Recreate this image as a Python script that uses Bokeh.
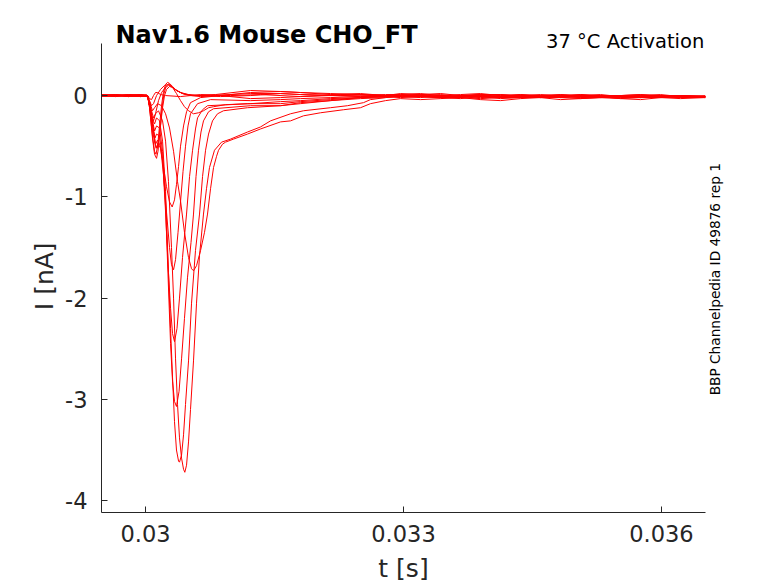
import math
from bokeh.plotting import figure
from bokeh.models import Label, FixedTicker, Range1d, LinearAxis
from bokeh.embed import file_html
from bokeh.resources import INLINE

# ---------------- data (t in s, I in nA) ----------------
PRE_T = [0.029488, 0.029651, 0.029802, 0.029942, 0.030012]
TAIL_T = [0.032965, 0.033198, 0.033430, 0.033663, 0.033895, 0.034128, 0.034360, 0.034593,
          0.034826, 0.035058, 0.035291, 0.035523, 0.035756, 0.035988, 0.036221, 0.036512]

# lowest step: capacitive blip only
PRE_L0 = [0.0, 0.01, 0.0, -0.01, 0.0]
T_L0 = [0.030023, 0.030047, 0.030070, 0.030093, 0.030116, 0.030140, 0.030174, 0.030233,
        0.030407, 0.030640, 0.030988, 0.031337, 0.031802, 0.032267, 0.032791]
I_L0 = [0.0, -0.03, -0.04, 0.0, 0.03, 0.03, 0.01, 0.0, -0.01, 0.01, 0.0, 0.01, -0.01, 0.01, 0.0]
TAIL_L0 = [0.0, 0.01, -0.01, 0.0, 0.01, -0.01, 0.0, -0.01, 0.01, 0.0, -0.01, 0.0, 0.01, -0.01, 0.0, -0.01]

# threshold step: small slow inward current
PRE_L1 = [0.01, 0.0, -0.01, 0.0, 0.01]
T_L1 = [0.030023, 0.030047, 0.030070, 0.030093, 0.030128, 0.030174, 0.030221, 0.030267,
        0.030314, 0.030360, 0.030407, 0.030453, 0.030500, 0.030558, 0.030616, 0.030674,
        0.030733, 0.030791, 0.030930, 0.031186, 0.031570, 0.031802, 0.032151, 0.032500, 0.032791]
I_L1 = [0.0, -0.05, -0.10, -0.08, 0.0, 0.06, 0.10, 0.11, 0.08, 0.02, -0.05, -0.11, -0.15,
        -0.18, -0.17, -0.15, -0.12, -0.11, -0.09, -0.08, -0.08, -0.06, -0.04, -0.02, -0.01]
TAIL_L1 = [-0.01, 0.0, -0.02, -0.01, 0.0, -0.02, -0.01, -0.02, 0.0, -0.01, -0.02, -0.01, 0.0, -0.01, -0.02, -0.01]

# wide trace, peak -1.73
PRE_M7 = [0.0, -0.01, 0.0, 0.01, 0.0]
T_M7 = [0.030023, 0.030047, 0.030081, 0.030105, 0.030140, 0.030186, 0.030233, 0.030279,
        0.030326, 0.030372, 0.030407, 0.030453, 0.030500, 0.030535, 0.030558, 0.030593,
        0.030640, 0.030686, 0.030721, 0.030756, 0.030791, 0.030826, 0.030849, 0.030895,
        0.030930, 0.031023, 0.031186, 0.031337, 0.031570, 0.031686, 0.031837, 0.032035,
        0.032302, 0.032500, 0.032616, 0.032791]
I_M7 = [0.0, -0.06, -0.15, -0.12, -0.08, -0.10, -0.18, -0.32, -0.55, -0.85, -1.04, -1.35,
        -1.60, -1.71, -1.73, -1.68, -1.53, -1.35, -1.17, -0.92, -0.71, -0.60, -0.54, -0.48,
        -0.46, -0.43, -0.38, -0.33, -0.26, -0.25, -0.20, -0.17, -0.14, -0.12, -0.08, -0.05]
TAIL_M7 = [-0.03, -0.04, -0.03, -0.02, -0.04, -0.05, -0.03, -0.02, -0.04, -0.03, -0.02, -0.03, -0.04, -0.02, -0.03, -0.02]

# largest trace, peak -3.72
PRE_M6 = [-0.01, 0.0, 0.01, 0.0, -0.01]
T_M6 = [0.030023, 0.030047, 0.030093, 0.030116, 0.030151, 0.030198, 0.030233, 0.030267,
        0.030302, 0.030326, 0.030349, 0.030372, 0.030395, 0.030419, 0.030442, 0.030457,
        0.030477, 0.030500, 0.030523, 0.030558, 0.030593, 0.030628, 0.030674, 0.030709,
        0.030744, 0.030802, 0.030884, 0.030988, 0.031186, 0.031337, 0.031453, 0.031686,
        0.031837, 0.032151, 0.032349, 0.032535, 0.032616, 0.032791]
I_M6 = [0.0, -0.08, -0.22, -0.18, -0.15, -0.25, -0.45, -0.85, -1.50, -2.00, -2.60, -3.05,
        -3.38, -3.58, -3.69, -3.72, -3.65, -3.42, -3.10, -2.62, -2.05, -1.58, -1.17, -0.92,
        -0.71, -0.54, -0.46, -0.43, -0.36, -0.31, -0.25, -0.18, -0.15, -0.12, -0.10, -0.07,
        -0.04, -0.02]
TAIL_M6 = [-0.01, -0.02, 0.0, -0.01, -0.02, -0.01, 0.0, -0.02, -0.01, -0.01, 0.0, -0.02, -0.01, 0.0, -0.01, -0.01]

# peak -3.62
PRE_M5 = [0.0, 0.0, -0.01, 0.0, 0.0]
T_M5 = [0.030023, 0.030047, 0.030093, 0.030105, 0.030128, 0.030163, 0.030198, 0.030233,
        0.030267, 0.030291, 0.030314, 0.030337, 0.030360, 0.030384, 0.030395, 0.030419,
        0.030442, 0.030465, 0.030500, 0.030535, 0.030581, 0.030628, 0.030663, 0.030698,
        0.030733, 0.030779, 0.030837, 0.030907, 0.031186, 0.031570, 0.031802, 0.032151,
        0.032500, 0.032791]
I_M5 = [0.0, -0.10, -0.26, -0.28, -0.22, -0.25, -0.45, -0.95, -1.75, -2.30, -2.78, -3.22,
        -3.50, -3.61, -3.62, -3.55, -3.35, -3.05, -2.62, -2.05, -1.53, -1.17, -0.80, -0.54,
        -0.38, -0.25, -0.18, -0.15, -0.12, -0.10, -0.08, -0.05, -0.03, -0.02]
TAIL_M5 = [0.0, -0.01, -0.02, 0.0, -0.01, -0.01, 0.01, -0.01, -0.02, 0.0, -0.01, 0.0, -0.02, -0.01, 0.0, -0.01]

# peak -3.07
PRE_M4 = [0.01, 0.0, 0.0, -0.01, 0.0]
T_M4 = [0.030023, 0.030047, 0.030105, 0.030128, 0.030163, 0.030198, 0.030233, 0.030267,
        0.030291, 0.030314, 0.030337, 0.030360, 0.030390, 0.030419, 0.030453, 0.030488,
        0.030529, 0.030558, 0.030587, 0.030616, 0.030645, 0.030674, 0.030733, 0.030791,
        0.031221, 0.031570, 0.031802, 0.032151, 0.032500, 0.032791]
I_M4 = [0.0, -0.10, -0.35, -0.30, -0.32, -0.55, -1.10, -1.90, -2.45, -2.82, -3.02, -3.07,
        -2.92, -2.60, -2.20, -1.80, -1.45, -1.17, -0.80, -0.54, -0.36, -0.25, -0.16, -0.13,
        -0.10, -0.10, -0.07, -0.05, -0.02, -0.01]
TAIL_M4 = [-0.01, -0.01, -0.02, -0.03, -0.01, -0.02, -0.02, -0.01, -0.02, -0.03, -0.02, -0.01, -0.02, -0.02, -0.01, -0.02]

# peak -2.43
PRE_M3 = [0.0, 0.01, 0.0, 0.0, -0.01]
T_M3 = [0.030023, 0.030047, 0.030110, 0.030128, 0.030163, 0.030198, 0.030233, 0.030267,
        0.030291, 0.030314, 0.030337, 0.030366, 0.030395, 0.030430, 0.030477, 0.030512,
        0.030547, 0.030581, 0.030605, 0.030663, 0.030721, 0.031221, 0.031570, 0.031802,
        0.032151, 0.032500, 0.032791]
I_M3 = [0.0, -0.10, -0.42, -0.38, -0.40, -0.62, -1.15, -1.75, -2.10, -2.35, -2.43, -2.30,
        -2.00, -1.60, -1.17, -0.80, -0.54, -0.33, -0.22, -0.14, -0.10, -0.08, -0.06, -0.05,
        -0.03, -0.02, -0.01]
TAIL_M3 = [-0.02, -0.01, -0.01, -0.02, -0.03, -0.02, -0.01, -0.02, -0.01, -0.02, -0.01, -0.03, -0.02, -0.01, -0.02, -0.01]

# peak -1.72
PRE_M2 = [-0.01, 0.0, 0.0, 0.01, 0.0]
T_M2 = [0.030023, 0.030047, 0.030116, 0.030140, 0.030174, 0.030209, 0.030244, 0.030279,
        0.030302, 0.030326, 0.030349, 0.030378, 0.030407, 0.030436, 0.030465, 0.030494,
        0.030523, 0.030605, 0.030756, 0.031221, 0.031570, 0.031802, 0.032151, 0.032500,
        0.032791]
I_M2 = [0.0, -0.10, -0.48, -0.44, -0.50, -0.78, -1.15, -1.50, -1.67, -1.72, -1.62, -1.35,
        -1.05, -0.75, -0.50, -0.30, -0.18, -0.08, -0.04, -0.05, -0.04, -0.03, -0.02, -0.01, -0.01]
TAIL_M2 = [0.0, -0.01, -0.02, -0.01, -0.01, -0.03, -0.02, -0.01, -0.02, -0.01, -0.02, -0.02, -0.01, -0.02, -0.01, -0.02]

# peak -1.10
PRE_M1 = [0.0, -0.01, 0.01, 0.0, 0.0]
T_M1 = [0.030023, 0.030047, 0.030122, 0.030145, 0.030174, 0.030209, 0.030244, 0.030279,
        0.030310, 0.030337, 0.030360, 0.030384, 0.030407, 0.030442, 0.030477, 0.030523,
        0.030640, 0.030872, 0.031221, 0.031570, 0.031802, 0.032151, 0.032500, 0.032791]
I_M1 = [0.0, -0.10, -0.52, -0.47, -0.52, -0.70, -0.90, -1.05, -1.10, -1.03, -0.88, -0.70,
        -0.50, -0.30, -0.16, -0.07, -0.02, 0.00, -0.03, -0.02, -0.01, 0.00, -0.01, 0.00]
TAIL_M1 = [-0.01, 0.0, -0.01, -0.02, 0.0, -0.01, -0.02, -0.01, 0.0, -0.02, -0.01, -0.01, -0.02, -0.01, -0.01, -0.02]

# high steps: fast small inward, then outward overshoot
PRE_H1 = [0.0, 0.0, 0.01, 0.0, -0.01]
T_H1 = [0.030023, 0.030047, 0.030081, 0.030105, 0.030122, 0.030140, 0.030163, 0.030186,
        0.030209, 0.030233, 0.030256, 0.030279, 0.030314, 0.030360, 0.030430, 0.030523,
        0.030640, 0.030872, 0.031221, 0.031570, 0.031802, 0.032151, 0.032500, 0.032791]
I_H1 = [0.0, -0.12, -0.40, -0.55, -0.58, -0.50, -0.30, -0.10, 0.04, 0.11, 0.13, 0.12,
        0.09, 0.05, 0.02, 0.00, -0.01, 0.00, 0.03, 0.04, 0.03, 0.02, 0.01, 0.00]
TAIL_H1 = [0.01, 0.02, 0.0, 0.01, 0.02, 0.0, 0.01, 0.0, -0.01, 0.0, 0.01, -0.01, 0.0, 0.01, -0.01, 0.0]

PRE_H2 = [0.01, 0.0, 0.0, -0.01, 0.0]
T_H2 = [0.030023, 0.030047, 0.030081, 0.030105, 0.030128, 0.030145, 0.030169, 0.030192,
        0.030215, 0.030238, 0.030267, 0.030291, 0.030326, 0.030384, 0.030465, 0.030581,
        0.030814, 0.031221, 0.031570, 0.031802, 0.032151, 0.032500, 0.032791]
I_H2 = [0.0, -0.12, -0.42, -0.58, -0.62, -0.55, -0.35, -0.12, 0.02, 0.09, 0.115, 0.10,
        0.07, 0.04, 0.01, 0.00, 0.01, 0.05, 0.04, 0.03, 0.01, 0.02, 0.00]
TAIL_H2 = [0.02, 0.01, 0.02, 0.0, 0.01, 0.01, 0.0, 0.01, 0.0, 0.01, -0.01, 0.0, 0.01, 0.0, 0.0, -0.01]

PRE_H3 = [0.0, 0.01, -0.01, 0.0, 0.0]
T_H3 = [0.030023, 0.030047, 0.030081, 0.030116, 0.030134, 0.030151, 0.030174, 0.030198,
        0.030221, 0.030244, 0.030279, 0.030314, 0.030360, 0.030430, 0.030547, 0.030756,
        0.031221, 0.031570, 0.031802, 0.032151, 0.032500, 0.032791]
I_H3 = [0.0, -0.10, -0.35, -0.50, -0.52, -0.45, -0.30, -0.12, 0.00, 0.06, 0.09, 0.08,
        0.05, 0.02, 0.00, 0.00, 0.02, 0.02, 0.01, 0.00, 0.01, -0.01]
TAIL_H3 = [0.0, 0.01, 0.0, -0.01, 0.01, 0.0, -0.01, 0.0, 0.01, -0.01, 0.0, 0.0, -0.01, 0.0, -0.01, -0.01]

PRE_H4 = [0.0, 0.0, 0.0, 0.01, 0.0]
T_H4 = [0.030023, 0.030047, 0.030070, 0.030093, 0.030116, 0.030151, 0.030186, 0.030233,
        0.030267, 0.030302, 0.030349, 0.030407, 0.030500, 0.030640, 0.030872, 0.031221,
        0.031570, 0.031802, 0.032267, 0.032791]
I_H4 = [0.0, -0.08, -0.20, -0.25, -0.18, -0.05, 0.03, 0.08, 0.10, 0.09, 0.06, 0.03,
        0.01, 0.00, -0.01, 0.00, 0.02, 0.01, 0.00, 0.01]
TAIL_H4 = [0.01, 0.0, 0.01, -0.01, 0.0, 0.01, -0.01, 0.0, -0.01, 0.01, 0.0, -0.01, 0.0, -0.01, 0.0, -0.01]

X_TICKS = [0.03, 0.033, 0.036]
X_TICK_LABELS = ["0.03", "0.033", "0.036"]
Y_TICKS = [-4, -3, -2, -1, 0]
Y_TICK_LABELS = ["-4", "-3", "-2", "-1", "0"]

TITLE = "Nav1.6  Mouse  CHO_FT"
SUBTITLE = "37 °C  Activation"
SIDE_NOTE = "BBP Channelpedia ID 49876 rep 1"
X_LABEL = "t [s]"
Y_LABEL = "I [nA]"

traces = [
    (PRE_L0, T_L0, I_L0, TAIL_L0), (PRE_L1, T_L1, I_L1, TAIL_L1),
    (PRE_M7, T_M7, I_M7, TAIL_M7), (PRE_M6, T_M6, I_M6, TAIL_M6),
    (PRE_M5, T_M5, I_M5, TAIL_M5), (PRE_M4, T_M4, I_M4, TAIL_M4),
    (PRE_M3, T_M3, I_M3, TAIL_M3), (PRE_M2, T_M2, I_M2, TAIL_M2),
    (PRE_M1, T_M1, I_M1, TAIL_M1), (PRE_H1, T_H1, I_H1, TAIL_H1),
    (PRE_H2, T_H2, I_H2, TAIL_H2), (PRE_H3, T_H3, I_H3, TAIL_H3),
    (PRE_H4, T_H4, I_H4, TAIL_H4),
]

xs, ys = [], []
for pre, t, i, tail in traces:
    assert len(t) == len(i) and len(pre) == len(PRE_T) and len(tail) == len(TAIL_T)
    xs.append(PRE_T + t + TAIL_T)
    ys.append(pre + i + tail)

# ---------------- figure ----------------
FONT = "DejaVu Sans"
AX = "#262626"
X_LIM = (0.029488, 0.036512)
Y_LIM = (-4.117, 0.511)        # visible axes box
Y_TOP = 0.9387                 # frame reaches up to the top of the page (room for the title texts)
Y_NAME_POS = -1.45             # upper end of the y-axis name (text runs downward from here)
SIDE_POS = -2.96               # lower end of the side note (text runs upward from here)

p = figure(frame_width=604, frame_height=512, title=None,
           min_border_left=101, min_border_right=73, min_border_top=0, min_border_bottom=71,
           x_range=Range1d(*X_LIM), y_range=Range1d(Y_LIM[0], Y_TOP),
           output_backend="svg", toolbar_location=None, tools="")
p.outline_line_color = None
p.background_fill_color = "white"
p.border_fill_color = "white"
p.xgrid.visible = False
p.ygrid.visible = False

p.multi_line(xs, ys, line_color="#ff0000", line_width=1.0)

p.xaxis.ticker = FixedTicker(ticks=X_TICKS)
p.xaxis.major_label_overrides = {k: v for k, v in zip(X_TICKS, X_TICK_LABELS)}
p.yaxis.ticker = FixedTicker(ticks=Y_TICKS)
p.yaxis.major_label_overrides = {k: v for k, v in zip(Y_TICKS, Y_TICK_LABELS)}
p.yaxis.bounds = Y_LIM

for ax in (p.xaxis[0], p.yaxis[0]):
    ax.axis_line_color = AX
    ax.axis_line_width = 1
    ax.major_tick_line_color = AX
    ax.major_tick_in = 6
    ax.major_tick_out = 0
    ax.minor_tick_line_color = None
    ax.major_label_text_font = FONT
    ax.major_label_text_font_size = "22.5px"
    ax.major_label_text_color = AX
p.xaxis.major_label_standoff = 12
p.yaxis.major_label_standoff = 14

p.xaxis.axis_label = X_LABEL
p.xaxis.axis_label_text_font = FONT
p.xaxis.axis_label_text_font_size = "25px"
p.xaxis.axis_label_text_font_style = "normal"
p.xaxis.axis_label_text_color = AX
p.xaxis.axis_label_standoff = 9


def name_axis(text, pos, size, standoff, color):
    ax = LinearAxis(ticker=FixedTicker(ticks=[pos]), major_label_overrides={pos: text})
    ax.axis_line_color = None
    ax.major_tick_line_color = None
    ax.minor_tick_line_color = None
    ax.major_label_orientation = math.pi / 2
    ax.major_label_standoff = standoff
    ax.major_label_text_font = FONT
    ax.major_label_text_font_size = size
    ax.major_label_text_color = color
    return ax


p.add_layout(name_axis(Y_LABEL, Y_NAME_POS, "25px", 12, AX), "left")
p.add_layout(name_axis(SIDE_NOTE, SIDE_POS, "13.7px", 4, "#000000"), "right")


def lab(text, x, y, size, align="left", bold=False, color="#000000"):
    p.add_layout(Label(x=x, y=y, x_units="screen", y_units="screen", text=text,
                       text_font=FONT, text_font_size=size, text_color=color,
                       text_align=align, text_baseline="middle",
                       text_font_style="bold" if bold else "normal"))


lab(TITLE, 14, 478, "24px", bold=True)
lab(SUBTITLE, 609, 471, "19.5px", align="right")

open("out.html", "w").write(file_html(p, INLINE))
